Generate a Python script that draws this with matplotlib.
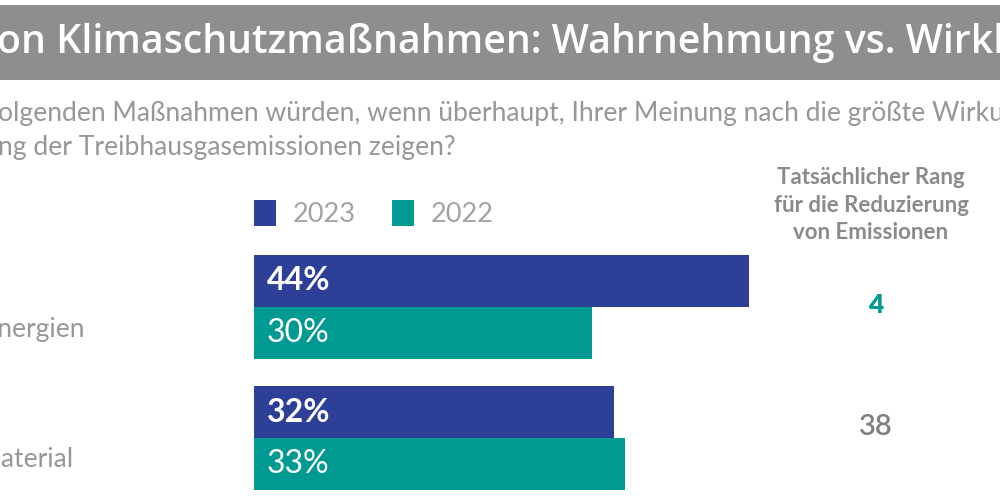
import matplotlib
matplotlib.use("Agg")
import matplotlib.pyplot as plt
import matplotlib.patches as mpatches
import numpy as np

# ── data ────────────────────────────────────────────────────────────────
categories = ["Erneuerbare Energien", "Recyceltes Material"]
series_names = ["2023", "2022"]
values_2023 = [44, 32]
values_2022 = [30, 33]
actual_rank = ["4", "38"]

title = "on Klimaschutzmaßnahmen: Wahrnehmung vs. Wirklichkeit"
subtitle_1 = "olgenden Maßnahmen würden, wenn überhaupt, Ihrer Meinung nach die größte Wirkung bei der"
subtitle_2 = "ng der Treibhausgasemissionen zeigen?"
rank_header = "Tatsächlicher Rang\nfür die Reduzierung\nvon Emissionen"

# ── colours ─────────────────────────────────────────────────────────────
C_NAVY = "#2E3F97"
C_TEAL = "#009A93"
C_BAND = "#8E8E90"
C_GREY = "#979797"
C_HEAD = "#8A8A8A"

FONT = "Lato"

fig = plt.figure(figsize=(10, 5), dpi=100, facecolor="white")

# background axes in pixel coordinates for the decorations
bg = fig.add_axes([0, 0, 1, 1])
bg.set_xlim(0, 1000)
bg.set_ylim(500, 0)
bg.axis("off")

bg.add_patch(mpatches.Rectangle((0, 5), 1000, 75, facecolor=C_BAND, edgecolor="none"))
bg.text(-3, 43, title, ha="left", va="center", fontsize=28.3, fontweight="semibold",
        color="white", family="Open Sans")

bg.text(-2, 114, subtitle_1, ha="left", va="center", fontsize=19.1, color=C_GREY, family=FONT)
bg.text(-2, 147, subtitle_2, ha="left", va="center", fontsize=19.1, color=C_GREY, family=FONT)

# legend
for i, (name, col) in enumerate(zip(series_names, [C_NAVY, C_TEAL])):
    x0 = 254 + i * 138
    bg.add_patch(mpatches.Rectangle((x0, 200), 22, 26, facecolor=col, edgecolor="none"))
    bg.text(x0 + 39, 214, name, ha="left", va="center", fontsize=19.5,
            color="#A3A3A3", family=FONT)

# right column: actual rank
bg.text(871, 205, rank_header, ha="center", va="center", fontsize=16, fontweight="bold",
        color=C_HEAD, family=FONT, linespacing=1.38)

# ── bars ────────────────────────────────────────────────────────────────
px_per_pct = 11.25
ax = fig.add_axes([0.254, 0, 0.746, 1])
ax.patch.set_alpha(0)
ax.axis("off")
ax.set_xlim(0, 746 / px_per_pct)
# group index i sits at pixel y = 307 + 131 * i
ax.set_ylim((500 - 307) / 131, -307 / 131)

idx = np.arange(len(categories))
h = 52 / 131
ax.barh(idx - h / 2, values_2023, height=h, color=C_NAVY, edgecolor="none")
ax.barh(idx + h / 2, values_2022, height=h, color=C_TEAL, edgecolor="none")

for i in idx:
    ax.text(1.15, i - h / 2, f"{values_2023[i]}%", ha="left", va="center",
            fontsize=23, fontweight="bold", color="white", family=FONT)
    ax.text(1.15, i + h / 2, f"{values_2022[i]}%", ha="left", va="center",
            fontsize=23, color="white", family=FONT)

# category labels (mostly cut off on the left in the source)
label_right = [85, 73]
for i, cat in enumerate(categories):
    yc = 307 + 131 * i
    bg.text(label_right[i], yc + 22, cat, ha="right", va="center",
            fontsize=19, color=C_GREY, family=FONT)

bg.text(876, 305, actual_rank[0], ha="center", va="center", fontsize=19,
        fontweight="heavy", color=C_TEAL, family=FONT)
bg.text(876, 427, actual_rank[1], ha="center", va="center", fontsize=21,
        fontweight="semibold", color="#7E7E7E", family=FONT)

fig.savefig("out.png", dpi=100, facecolor="white")
